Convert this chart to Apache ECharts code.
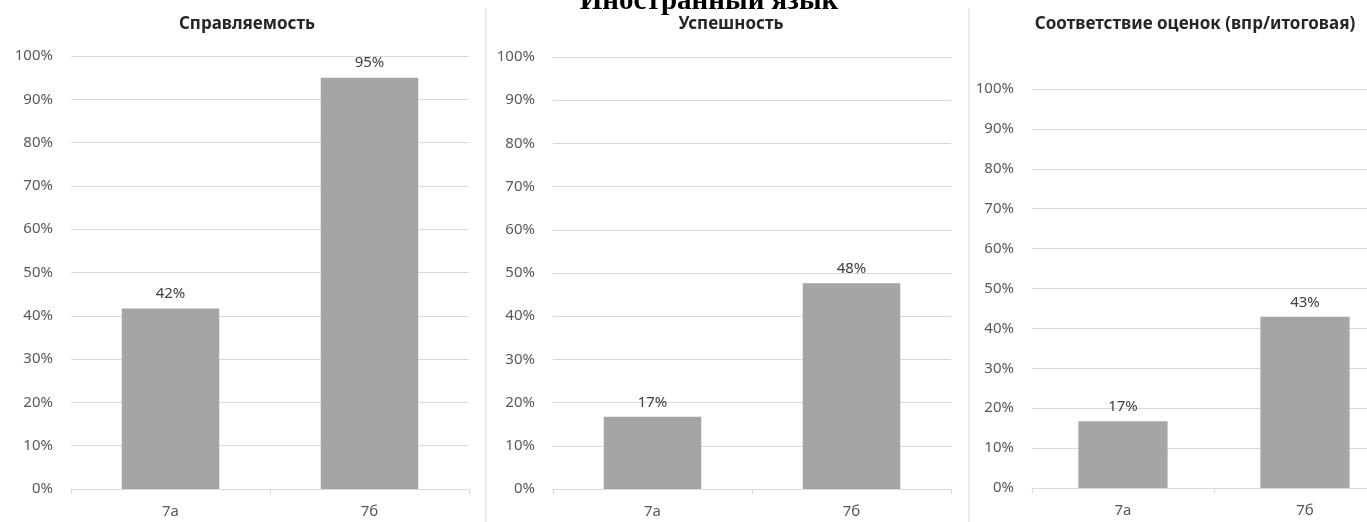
<!DOCTYPE html>
<html>
<head>
<meta charset="utf-8">
<script src="https://cdn.jsdelivr.net/npm/echarts@6/dist/echarts.min.js"></script>
<style>
html,body{margin:0;padding:0;background:#fff;}
#c{width:1367px;height:522px;}
</style>
</head>
<body>
<div id="c"></div>
<script>
const mainTitle = 'Иностранный язык';
const panelTitles = ['Справляемость', 'Успешность', 'Соответствие оценок (впр/итоговая)'];
const categories = ['7а', '7б'];
const spravlyaemost = [41.7, 95.0];
const uspeshnost = [16.7, 47.6];
const sootvetstvie = [16.7, 42.9];
const yTicks = [0, 10, 20, 30, 40, 50, 60, 70, 80, 90, 100];

const seriesValues = [spravlyaemost, uspeshnost, sootvetstvie];
const grids = [
  {left: 71, width: 398, top: 56, height: 433, outerBoundsMode: 'none', containLabel: false},
  {left: 553, width: 398, top: 57, height: 432, outerBoundsMode: 'none', containLabel: false},
  {left: 1032, width: 364, top: 89, height: 399, outerBoundsMode: 'none', containLabel: false}
];
const titleCenters = [242, 726, 1190];
const FONT = '"Noto Sans", sans-serif';

const chart = echarts.init(document.getElementById('c'));
const option = {
  backgroundColor: '#fff',
  animation: false,
  title: [
    {text: mainTitle, left: 704, top: -18, textAlign: 'center',
     textStyle: {fontFamily: '"Liberation Serif", serif', fontWeight: 'bold', fontSize: 29, color: '#000'}}
  ].concat(panelTitles.map((t, i) => ({
    text: t, left: titleCenters[i], top: 11, textAlign: 'center',
    textStyle: {fontFamily: FONT, fontWeight: 'bold', fontSize: 17, color: '#262626'}
  }))),
  grid: grids,
  xAxis: grids.map((g, i) => ({
    type: 'category', gridIndex: i, data: categories,
    axisLine: {lineStyle: {color: '#d9d9d9', width: 1}},
    axisTick: {show: true, length: 5, lineStyle: {color: '#d9d9d9'}},
    axisLabel: {color: '#595959', fontFamily: FONT, fontSize: 15, margin: 15}
  })),
  yAxis: grids.map((g, i) => ({
    type: 'value', gridIndex: i, min: yTicks[0], max: yTicks[yTicks.length - 1], interval: 10,
    axisLine: {show: false}, axisTick: {show: false},
    splitLine: {lineStyle: {color: '#d9d9d9', width: 1}},
    axisLabel: {color: '#595959', fontFamily: FONT, fontSize: 15, margin: 18, formatter: '{value}%'}
  })),
  series: seriesValues.map((vals, i) => ({
    type: 'bar', xAxisIndex: i, yAxisIndex: i, data: vals,
    barCategoryGap: '51%',
    itemStyle: {color: '#a5a5a5'},
    label: {show: true, position: 'top', distance: 7, color: '#404040', fontFamily: FONT, fontSize: 15,
            formatter: p => Math.round(p.value) + '%'}
  })),
  graphic: [
    {type: 'line', shape: {x1: 486, y1: 8, x2: 486, y2: 522}, style: {stroke: '#d9d9d9', lineWidth: 1}},
    {type: 'line', shape: {x1: 969, y1: 8, x2: 969, y2: 522}, style: {stroke: '#d9d9d9', lineWidth: 1}}
  ]
};
chart.setOption(option);
</script>
</body>
</html>
